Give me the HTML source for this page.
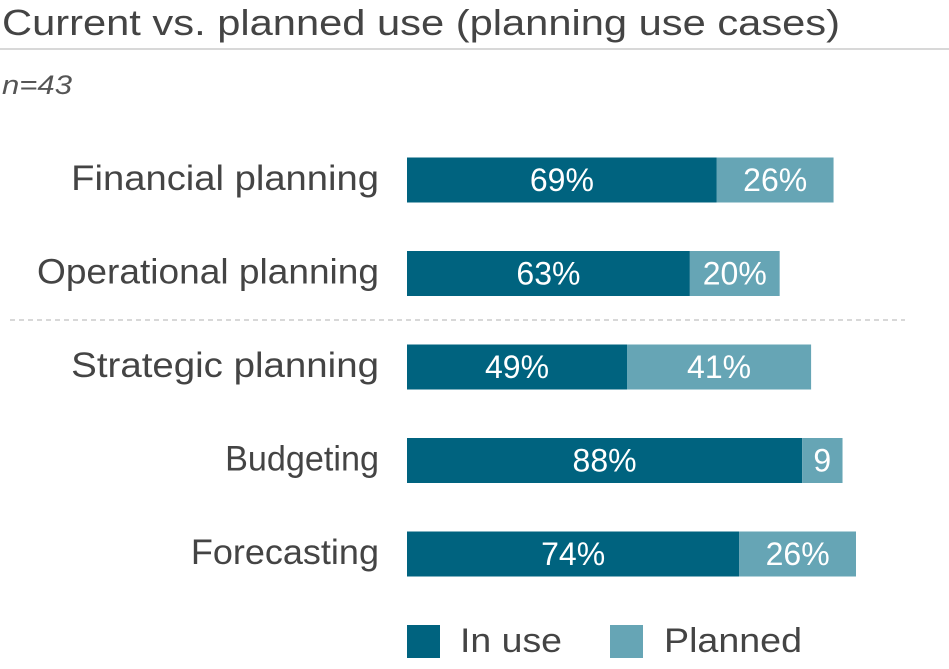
<!DOCTYPE html>
<html><head><meta charset="utf-8"><style>
body{margin:0;background:#fff;font-family:"Liberation Sans","DejaVu Sans",sans-serif;}
svg text{font-family:"Liberation Sans","DejaVu Sans",sans-serif;}
</style></head><body>
<svg id="chart" width="949" height="664" xmlns="http://www.w3.org/2000/svg">
<text x="2" y="35" font-size="36" fill="#444" textLength="838" lengthAdjust="spacingAndGlyphs">Current vs. planned use (planning use cases)</text>
<line x1="0" y1="49" x2="949" y2="49" stroke="#ccc" stroke-width="1.5"/>
<text x="2" y="94" font-size="27" font-style="italic" fill="#555" textLength="70" lengthAdjust="spacingAndGlyphs">n=43</text>
<line x1="10" y1="320" x2="905" y2="320" stroke="#ccc" stroke-width="1.5" stroke-dasharray="5,4"/>
<g id="bars"></g>
<rect x="407" y="625" width="33" height="33" fill="#00637f"/>
<text x="460" y="652" font-size="34" fill="#444" textLength="102" lengthAdjust="spacingAndGlyphs">In use</text>
<rect x="610" y="625" width="33" height="33" fill="#66a5b5"/>
<text x="664" y="652" font-size="34" fill="#444" textLength="138" lengthAdjust="spacingAndGlyphs">Planned</text>
</svg>
<script>
const categories=["Financial planning","Operational planning","Strategic planning","Budgeting","Forecasting"];
const inUse=[69,63,49,88,74];
const planned=[26,20,41,9,26];
const plannedLabels=["26%","20%","41%","9","26%"];
const x0=407, pxPer=4.49, y0=180, step=93.5, h=45;
const xs=v=>x0+v*pxPer;
const g=document.getElementById('bars');
const NS="http://www.w3.org/2000/svg";
function mk(t,a){const e=document.createElementNS(NS,t);for(const k in a)e.setAttribute(k,a[k]);return e;}
function lblW(s){return s.length*17.1;}
categories.forEach((c,i)=>{
  const cy=y0+i*step;
  const lab=mk('text',{x:379,y:cy+10,'font-size':35,fill:'#444','text-anchor':'end',textLength:lblW(c),lengthAdjust:'spacingAndGlyphs'});
  lab.textContent=c;
  
  
  g.appendChild(lab);
  const r1=mk('rect',{x:x0,y:cy-h/2,width:xs(inUse[i])-x0,height:h,fill:'#00637f'});
  
  
  g.appendChild(r1);
  const r2=mk('rect',{x:xs(inUse[i]),y:cy-h/2,width:planned[i]*pxPer,height:h,fill:'#66a5b5'});
  
  
  g.appendChild(r2);
  const t1=mk('text',{x:(x0+xs(inUse[i]))/2,y:cy+11,'font-size':32,fill:'#fff','text-anchor':'middle'});
  t1.textContent=inUse[i]+"%";
  
  
  g.appendChild(t1);
  const t2=mk('text',{x:xs(inUse[i])+planned[i]*pxPer/2,y:cy+11,'font-size':32,fill:'#fff','text-anchor':'middle'});
  t2.textContent=plannedLabels[i];
  
  
  g.appendChild(t2);
});
</script>
</body></html>
